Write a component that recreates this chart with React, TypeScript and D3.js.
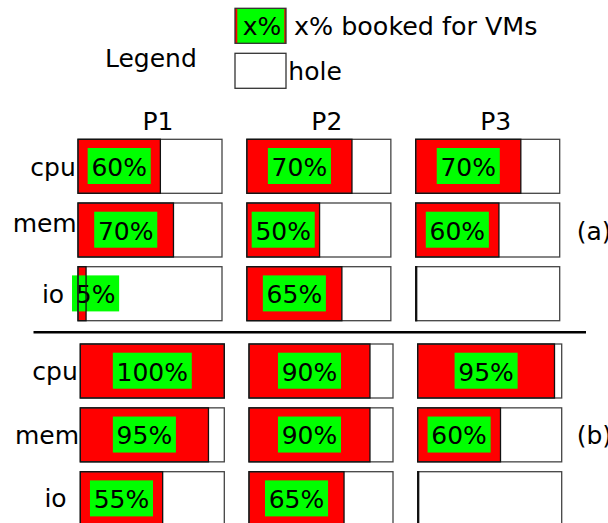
import React from "react";
import * as d3 from "d3";

// ---- data ----
const sections = ["(a)", "(b)"];
const columns = ["P1", "P2", "P3"];
const resources = ["cpu", "mem", "io"];
// labels (percent booked) per section [row][col]; null = no label
const labelsA: (number | null)[][] = [
  [60, 70, 70],
  [70, 50, 60],
  [5, 65, null],
];
const labelsB: (number | null)[][] = [
  [100, 90, 95],
  [95, 90, 60],
  [55, 65, null],
];
// drawn fill fraction of each box
const fillA: number[][] = [
  [0.572, 0.73, 0.73],
  [0.663, 0.505, 0.578],
  [0.056, 0.66, 0],
];
const fillB: number[][] = [
  [1.0, 0.84, 0.95],
  [0.89, 0.84, 0.575],
  [0.572, 0.66, 0],
];
const legendItems = ["x% booked for VMs", "hole"];

// ---- layout ----
const W = 608;
const H = 523;
const FS = 25;
const FONT = "DejaVu Sans, sans-serif";
const BOX_W = 144;
const BOX_H = 54;
const RED = "#ff0000";
const GREEN = "#00ff00";

const sectionLayout = [
  { x0: 78, x2: 415.7, y0: 139.3, y2: 266.7, labelY: 240, fills: fillA, labels: labelsA,
    rowLabel: [ { cx: 53, dy: 9.7 }, { cx: 44.7, dy: 1.7 }, { cx: 53, dy: 9.6 } ] },
  { x0: 80.3, x2: 417.7, y0: 344, y2: 471.7, labelY: 444, fills: fillB, labels: labelsB,
    rowLabel: [ { cx: 55, dy: 8.8 }, { cx: 47, dy: 9.2 }, { cx: 55.5, dy: 8 } ] },
];

function textW(s: string) {
  let w = 0;
  for (const ch of s) w += ch === "%" ? 0.95 : 0.636;
  return w * FS;
}

export default function App() {
  const wScale = d3.scaleLinear().domain([0, 1]).range([0, BOX_W]);
  const headerX = d3.scaleLinear().domain([0, 2]).range([sectionLayout[0].x0, sectionLayout[0].x2]);
  return (
    <svg width={W} height={H} style={{ position: "absolute", left: 0, top: 0, background: "#fff" }}
      fontFamily={FONT} fontSize={FS}>
      {/* Legend */}
      <text x={105} y={66.7} fill="#000">Legend</text>
      <rect x={235} y={8.3} width={51} height={35} fill={RED} />
      <rect x={237.3} y={8.3} width={47} height={35} fill={GREEN} />
      <rect x={235} y={8.3} width={51} height={35} fill="none" stroke="#333" strokeWidth={1.3} />
      <text x={262} y={35} textAnchor="middle">x%</text>
      <text x={294} y={35} fontSize={25.4}>{legendItems[0]}</text>
      <rect x={235} y={53.3} width={51} height={35} fill="#fff" stroke="#333" strokeWidth={1.3} />
      <text x={288.3} y={80}>{legendItems[1]}</text>

      {/* column headers */}
      {columns.map((c, i) => (
        <text key={c} x={headerX(i) + BOX_W / 2 + 8} y={130} textAnchor="middle">{c}</text>
      ))}

      {/* separator */}
      <line x1={33.5} x2={586} y1={332.3} y2={332.3} stroke="#000" strokeWidth={2.5} />

      {sectionLayout.map((sec, si) => {
        const xs = d3.scaleLinear().domain([0, 2]).range([sec.x0, sec.x2]);
        const ys = d3.scaleLinear().domain([0, 2]).range([sec.y0, sec.y2]);
        const cells: { r: number; c: number }[] = [];
        resources.forEach((_, ri) => columns.forEach((__, ci) => cells.push({ r: ri, c: ci })));
        return (
          <g key={si}>
            <text x={576.7} y={sec.labelY}>{sections[si]}</text>
            {resources.map((r, ri) => (
              <text key={r} x={sec.rowLabel[ri].cx} y={ys(ri) + BOX_H / 2 + sec.rowLabel[ri].dy}
                textAnchor="middle">{r}</text>
            ))}
            {/* fills */}
            {cells.map(({ r, c }) => {
              const x = xs(c), y = ys(r);
              const fw = wScale(sec.fills[r][c]);
              return (
                <g key={`f-${r}-${c}`}>
                  <rect x={x} y={y} width={BOX_W} height={BOX_H} fill="#fff" />
                  <rect x={x} y={y} width={fw} height={BOX_H} fill={RED} />
                </g>
              );
            })}
            {/* labels */}
            {cells.map(({ r, c }) => {
              const lab = sec.labels[r][c];
              if (lab === null) return null;
              const x = xs(c), y = ys(r);
              const fw = wScale(sec.fills[r][c]);
              const cy = y + BOX_H / 2;
              const s = `${lab}%`;
              const gw = textW(s) + 7.5;
              const cx = Math.max(x + fw / 2, x + gw / 2 - 6);
              return (
                <g key={`l-${r}-${c}`}>
                  <rect x={cx - gw / 2} y={cy - 18.3} width={gw} height={36} fill={GREEN} />
                  <text x={cx} y={cy + 9.6} textAnchor="middle">{s}</text>
                </g>
              );
            })}
            {/* outlines */}
            {cells.map(({ r, c }) => {
              const x = xs(c), y = ys(r);
              const fw = wScale(sec.fills[r][c]);
              return (
                <g key={`o-${r}-${c}`} fill="none">
                  <rect x={x} y={y} width={BOX_W} height={BOX_H} stroke="#444" strokeWidth={1.3} />
                  <rect x={x} y={y} width={Math.max(fw, 1)} height={BOX_H} stroke="#111" strokeWidth={1.3} />
                </g>
              );
            })}
          </g>
        );
      })}
    </svg>
  );
}
